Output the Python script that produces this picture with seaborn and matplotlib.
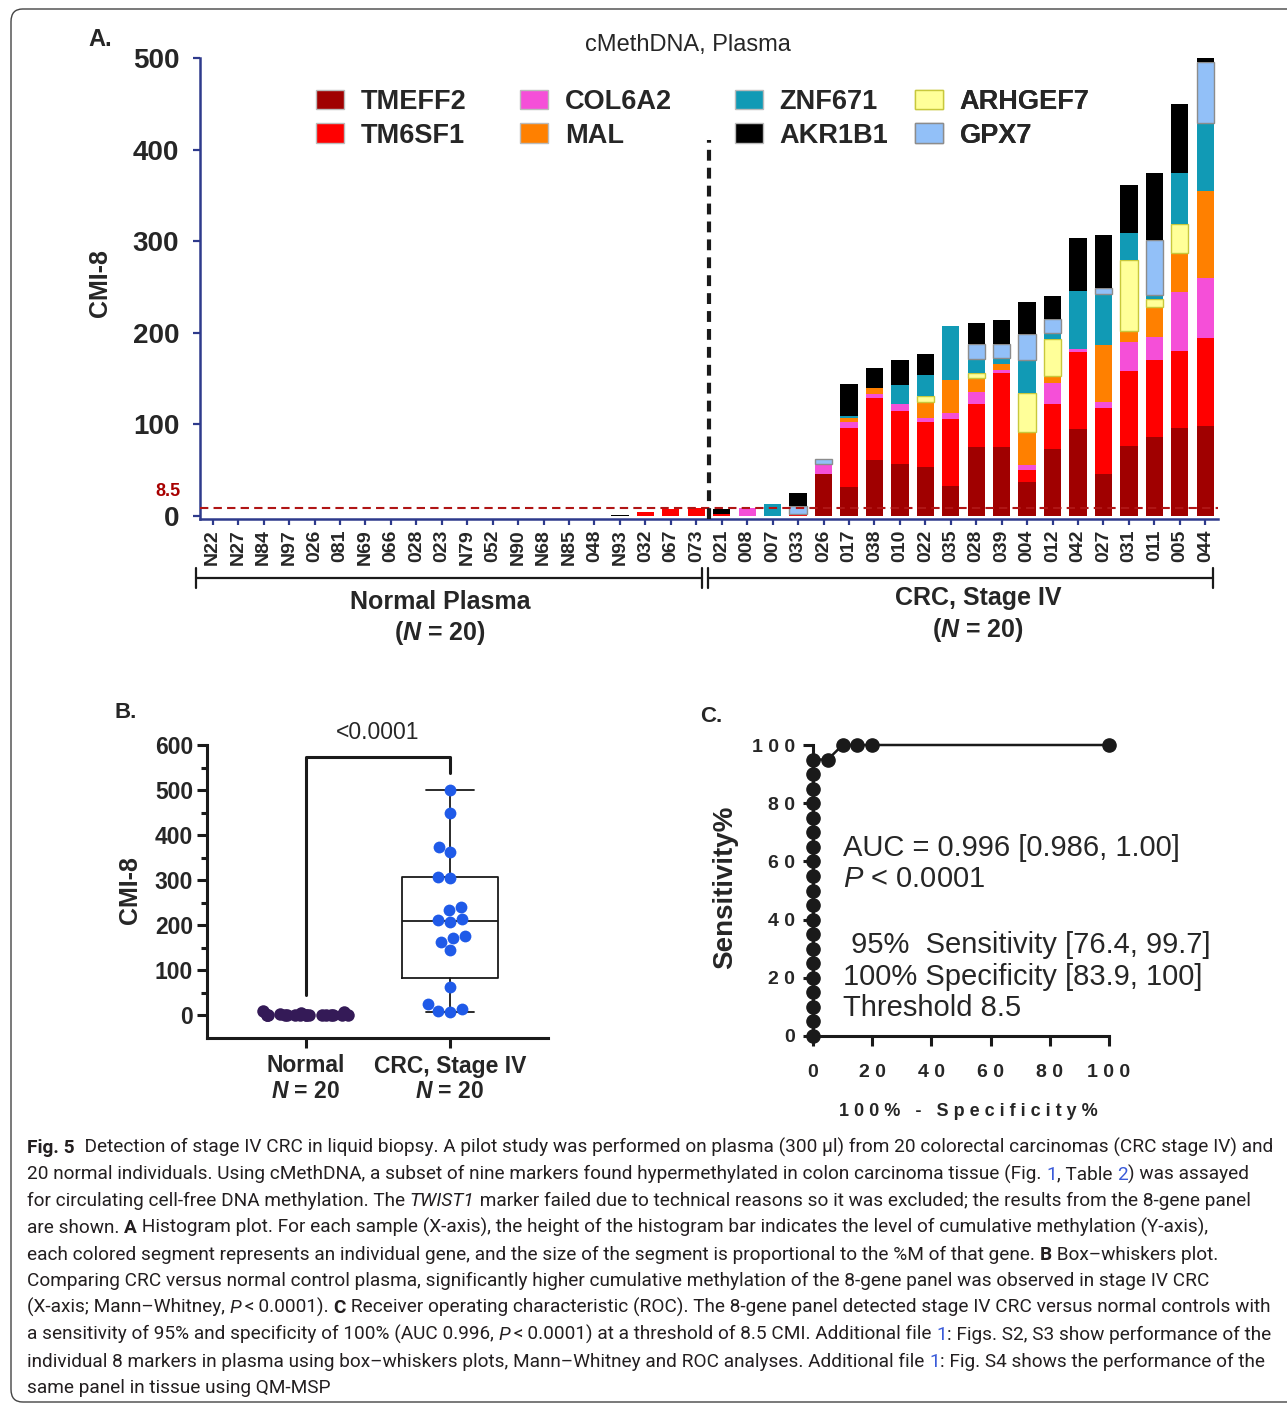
import numpy as np
import pandas as pd
import matplotlib
matplotlib.use("Agg")
import matplotlib.pyplot as plt
import seaborn as sns
from matplotlib.patches import Patch, FancyBboxPatch
from matplotlib import font_manager as fm

# ---------------- data ----------------
normal_ids = ["N22", "N27", "N84", "N97", "026", "081", "N69", "066", "028", "023",
              "N79", "052", "N90", "N68", "N85", "048", "N93", "032", "067", "073"]
crc_ids = ["021", "008", "007", "033", "026", "017", "038", "010", "022", "035",
           "028", "039", "004", "012", "042", "027", "031", "011", "005", "044"]
genes = ["TMEFF2", "TM6SF1", "COL6A2", "MAL", "ARHGEF7", "ZNF671", "GPX7", "AKR1B1"]

# values per sample: 20 normal plasma, then 20 CRC stage IV
TMEFF2 = [0, 0, 0, 0, 0, 0, 0, 0, 0, 0, 0, 0, 0, 0, 0, 0, 0, 0, 0, 0,
          0, 0, 0, 0, 45.5, 31.0, 61.0, 56.4, 52.8, 32.8, 74.6, 74.6, 36.8, 72.8, 94.6, 45.5, 76.4, 85.9, 95.7, 97.9]
TM6SF1 = [0, 0, 0, 0, 0, 0, 0, 0, 0, 0, 0, 0, 0, 0, 0, 0, 0, 4.4, 7.8, 8.2,
          2.5, 0, 0, 2.2, 0, 65.0, 68.0, 58.2, 49.9, 72.8, 48.0, 81.1, 13.1, 49.1, 84.4, 72.4, 81.5, 84.8, 84.1, 96.8]
COL6A2 = [0, 0, 0, 0, 0, 0, 0, 0, 0, 0, 0, 0, 0, 0, 0, 0, 0, 0, 0, 0,
          0, 9.0, 0, 0, 11.6, 6.5, 4.4, 7.3, 4.4, 6.2, 13.1, 4.0, 5.1, 22.9, 3.6, 6.9, 31.7, 24.7, 64.8, 64.8]
MAL = [0, 0, 0, 0, 0, 0, 0, 0, 0, 0, 0, 0, 0, 0, 0, 0, 0, 0, 0, 0,
       0, 0, 0, 0, 0, 4.4, 6.5, 0, 16.7, 36.8, 14.9, 5.8, 36.0, 8.0, 0, 61.9, 12.7, 32.4, 42.2, 95.0]
ARHGEF7 = [0, 0, 0, 0, 0, 0, 0, 0, 0, 0, 0, 0, 0, 0, 0, 0, 0, 0, 0, 0,
           0, 0, 0, 0, 0, 0, 0, 0, 6.5, 0, 5.1, 0, 42.6, 40.8, 0, 0, 76.8, 9.5, 31.7, 0]
ZNF671 = [0, 0, 0, 0, 0, 0, 0, 0, 0, 0, 0, 0, 0, 0, 0, 0, 0, 0, 0, 0,
          0, 0, 12.4, 0, 0, 1.8, 0, 20.7, 23.3, 59.0, 15.6, 7.3, 36.4, 6.2, 63.0, 55.0, 29.5, 3.6, 55.7, 74.2]
GPX7 = [0, 0, 0, 0, 0, 0, 0, 0, 0, 0, 0, 0, 0, 0, 0, 0, 0, 0, 0, 0,
        0, 0, 0, 8.4, 4.4, 0, 0, 0, 0, 0, 16.7, 15.3, 29.1, 14.6, 0, 6.6, 0, 60.0, 0, 67.0]
AKR1B1 = [0, 0, 0, 0, 0, 0, 0, 0, 0, 0, 0, 0, 0, 0, 0, 0, 1.4, 0, 0, 0,
          5.3, 0, 0, 14.2, 0, 35.0, 21.8, 28.0, 22.9, 0, 22.9, 25.5, 34.6, 26.2, 57.9, 58.2, 52.8, 73.1, 75.3, 4.7]
gene_values = {"TMEFF2": TMEFF2, "TM6SF1": TM6SF1, "COL6A2": COL6A2, "MAL": MAL,
               "ARHGEF7": ARHGEF7, "ZNF671": ZNF671, "GPX7": GPX7, "AKR1B1": AKR1B1}
threshold = 8.5
legend_columns = [["TMEFF2", "TM6SF1"], ["COL6A2", "MAL"], ["ZNF671", "AKR1B1"], ["ARHGEF7", "GPX7"]]
box_groups = ["Normal", "CRC"]
roc_ticklabels = ["0", "2 0", "4 0", "6 0", "8 0", "1 0 0"]

# ---------------- styles ----------------
gene_colors = {"TMEFF2": "#a00000", "TM6SF1": "#ff0000", "COL6A2": "#f54fd8", "MAL": "#ff8000",
               "ARHGEF7": "#ffff99", "ZNF671": "#119ab5", "GPX7": "#92c0f8", "AKR1B1": "#000000"}
gene_edges = {"ARHGEF7": "#c8c83c", "GPX7": "#8c8c8c"}
NAVY = "#2e3a8c"
legend_col_x = [316, 520, 735, 915]

W, H = 1287, 1404
sns.set_theme(style="ticks")
plt.rcParams["font.family"] = ["Liberation Sans", "DejaVu Sans"]
plt.rcParams["mathtext.fontset"] = "custom"
plt.rcParams["mathtext.rm"] = "Liberation Sans"
plt.rcParams["mathtext.it"] = "Liberation Sans:italic"
plt.rcParams["mathtext.bf"] = "Liberation Sans:bold"
plt.rcParams["mathtext.sf"] = "Liberation Sans:bold:italic"

fig = plt.figure(figsize=(W / 100, H / 100), dpi=100)
fig.patch.set_facecolor("white")


def fx(px):
    return px / W


def fy(py):
    return 1 - py / H


# border
border = FancyBboxPatch((fx(11), fy(1402)), fx(1320) - fx(11), fy(9) - fy(1402),
                        boxstyle="round,pad=0,rounding_size=0.009", transform=fig.transFigure,
                        fill=False, ec="#444444", lw=1.0)
fig.add_artist(border)

# ================= Panel A =================
axA = fig.add_axes([fx(200), fy(519), (1218 - 200) / W, (519 - 58) / H])
keys = [f"n{i}" for i in range(len(normal_ids))] + [f"c{i}" for i in range(len(crc_ids))]
tick_labels = normal_ids + crc_ids
bottom = np.zeros(len(keys))
for g in genes:
    vals = np.array(gene_values[g], dtype=float)
    ec = gene_edges.get(g, gene_colors[g])
    lw = 1.0 if g in gene_edges else 0.0
    sns.barplot(x=keys, y=vals, order=keys, color=gene_colors[g], saturation=1, width=0.68,
                errorbar=None, bottom=bottom.copy(), edgecolor=ec, linewidth=lw, ax=axA)
    cont = axA.containers[-1]
    for bar, v in zip(cont, vals):
        if v == 0:
            bar.set_visible(False)
    bottom += vals

axA.set_xlim(-0.5, len(keys) - 0.5)
axA.set_ylim(-3.5, 500)
axA.set_yticks([0, 100, 200, 300, 400, 500])
axA.set_yticklabels(["0", "100", "200", "300", "400", "500"], fontweight="bold", fontsize=20)
axA.set_xticks(range(len(keys)))
axA.set_xticklabels(tick_labels, rotation=90, fontweight="bold", fontsize=14)
axA.tick_params(axis="y", length=5, width=1.6, color=NAVY, pad=10)
axA.tick_params(axis="x", length=4.5, width=1.6, color=NAVY, pad=3)
for s in ["top", "right"]:
    axA.spines[s].set_visible(False)
for s in ["left", "bottom"]:
    axA.spines[s].set_color(NAVY)
    axA.spines[s].set_linewidth(1.8)
axA.set_xlabel("")
axA.set_ylabel("")

axA.axhline(threshold, color="#b01515", lw=1.5, ls=(0, (4, 2.5)), zorder=5)
axA.vlines(len(normal_ids) - 0.5, -3.5, 410, color="k", lw=3, linestyles=[(0, (2.6, 1.7))],
           zorder=5, clip_on=False)

fig.text(fx(88), fy(40), "A.", fontsize=17, fontweight="bold", ha="left", va="center")
fig.text(fx(688), fy(45), "cMethDNA, Plasma", fontsize=17, ha="center", va="center")
fig.text(fx(100), fy(283), "CMI-8", fontsize=18, fontweight="bold", rotation=90, ha="center", va="center")
fig.text(fx(180), fy(492), "8.5", fontsize=13, fontweight="bold", color="#a80000", ha="right", va="center")

# legend: one small legend per column, placed like the reference
for col, xpx in zip(legend_columns, legend_col_x):
    handles = [Patch(facecolor=gene_colors[g], edgecolor=gene_edges.get(g, "#bbbbbb"), linewidth=1.0)
               for g in col]
    leg = axA.legend(handles, col, ncol=1, loc="upper left", bbox_to_anchor=(fx(xpx), fy(89)),
                     bbox_transform=fig.transFigure, frameon=False, prop=dict(weight="bold", size=19.5),
                     handlelength=1.05, handleheight=0.75, handletextpad=0.6,
                     labelspacing=0.28, borderpad=0, borderaxespad=0)
    axA.add_artist(leg)

# group brackets under the x axis
tr = axA.get_xaxis_transform()
n_norm = len(normal_ids)
def yfrac(py):
    return (519 - py) / 461.0
for x0, x1 in [(-0.66, n_norm - 0.76), (n_norm - 0.52, len(keys) - 0.70)]:
    axA.plot([x0, x1], [yfrac(578), yfrac(578)], color="k", lw=1.6, transform=tr, clip_on=False)
    for xe in (x0, x1):
        axA.plot([xe, xe], [yfrac(568), yfrac(588)], color="k", lw=1.6, transform=tr, clip_on=False)
axA.text(8.93, yfrac(602), "Normal Plasma", transform=tr, ha="center", va="center",
         fontsize=18, fontweight="bold")
axA.text(8.93, yfrac(633), "($\\mathsf{N}$ = 20)", transform=tr, ha="center", va="center",
         fontsize=18, fontweight="bold")
axA.text(30.06, yfrac(598), "CRC, Stage IV", transform=tr, ha="center", va="center",
         fontsize=18, fontweight="bold")
axA.text(30.06, yfrac(630), "($\\mathsf{N}$ = 20)", transform=tr, ha="center", va="center",
         fontsize=18, fontweight="bold")

# ================= Panel B =================
totals = np.sum([np.array(gene_values[g], dtype=float) for g in genes], axis=0)
totals = np.round(totals, 6)
normal_tot = totals[:n_norm]
crc_tot = totals[n_norm:]
dfB = pd.DataFrame({"group": [box_groups[0]] * n_norm + [box_groups[1]] * len(crc_ids),
                    "cmi": totals})

axB = fig.add_axes([fx(207), fy(1038), (548 - 207) / W, (1038 - 745) / H])
q1, med, q3 = np.percentile(crc_tot, [25, 50, 75], method="weibull")
stats = [dict(med=med, q1=q1, q3=q3, whislo=crc_tot.min(), whishi=crc_tot.max(), fliers=[])]
lineprops = dict(color="k", linewidth=1.3)
axB.bxp(stats, positions=[1], widths=0.66, capwidths=0.33, showfliers=False, manage_ticks=False,
        boxprops=lineprops, whiskerprops=lineprops, capprops=lineprops,
        medianprops=lineprops, zorder=2)
np.random.seed(7)
sns.stripplot(data=dfB[dfB["group"] == box_groups[0]], x="group", y="cmi", order=box_groups,
              color="#341a57", size=9, jitter=0.31, ax=axB, zorder=3)
sns.swarmplot(data=dfB[dfB["group"] == box_groups[1]], x="group", y="cmi", order=box_groups,
              color="#1f5ae8", size=8.5, ax=axB, zorder=3)
axB.set_xlim(-0.684, 1.679)
axB.set_ylim(-51, 600)
axB.set_yticks([0, 100, 200, 300, 400, 500, 600])
axB.set_yticklabels(["0", "100", "200", "300", "400", "500", "600"], fontweight="bold", fontsize=16.5)
axB.set_yticks(np.arange(50, 600, 100), minor=True)
axB.set_xticks([0, 1])
axB.set_xticklabels(["", ""])
axB.tick_params(axis="both", which="major", length=7, width=2.2, color="k", pad=3)
axB.tick_params(axis="y", which="minor", length=4.5, width=2.2, color="k")
for s in ["top", "right"]:
    axB.spines[s].set_visible(False)
for s in ["left", "bottom"]:
    axB.spines[s].set_color("k")
    axB.spines[s].set_linewidth(2.2)
axB.set_xlabel("")
axB.set_ylabel("")
axB.plot([0, 0, 1, 1], [44, 573, 573, 538], color="k", lw=2.2, clip_on=False)
axB.text(0.5, 627, "<0.0001", ha="center", va="center", fontsize=16.5)
trB = axB.get_xaxis_transform()
def yfracB(py):
    return (1038 - py) / 293.0
axB.text(0, yfracB(1066), "Normal", transform=trB, ha="center", va="center", fontsize=16.5, fontweight="bold")
axB.text(0, yfracB(1091), "$\\mathsf{N}$ = 20", transform=trB, ha="center", va="center", fontsize=16.5, fontweight="bold")
axB.text(1, yfracB(1066), "CRC, Stage IV", transform=trB, ha="center", va="center", fontsize=16.5, fontweight="bold")
axB.text(1, yfracB(1091), "$\\mathsf{N}$ = 20", transform=trB, ha="center", va="center", fontsize=16.5, fontweight="bold")
fig.text(fx(115), fy(713), "B.", fontsize=16, fontweight="bold", ha="left", va="center")
fig.text(fx(130), fy(890), "CMI-8", fontsize=18, fontweight="bold", rotation=90, ha="center", va="center")

# ================= Panel C (ROC computed from the totals) =================
cut_values = np.unique(totals)[::-1]
fpr = [0.0]
tpr = [0.0]
for v in cut_values:
    tpr.append(100 * np.mean(crc_tot >= v))
    fpr.append(100 * np.mean(normal_tot >= v))

axC = fig.add_axes([fx(813), fy(1036), (1109 - 813) / W, (1036 - 745) / H])
sns.lineplot(x=fpr, y=tpr, sort=False, estimator=None, color="k", linewidth=1.8, marker="o",
             markersize=9.5, markeredgecolor="k", markeredgewidth=1, clip_on=False, zorder=5, ax=axC)
axC.set_xlim(0, 100)
axC.set_ylim(0, 100)
axC.set_xticks([0, 20, 40, 60, 80, 100])
axC.set_xticklabels(roc_ticklabels, fontweight="bold", fontsize=14)
axC.set_yticks([0, 20, 40, 60, 80, 100])
axC.set_yticklabels(roc_ticklabels, fontweight="bold", fontsize=14)
axC.tick_params(axis="x", length=7, width=2.2, color="k", pad=13)
axC.tick_params(axis="y", length=7, width=2.2, color="k", pad=6)
for s in ["top", "right"]:
    axC.spines[s].set_visible(False)
for s in ["left", "bottom"]:
    axC.spines[s].set_color("k")
    axC.spines[s].set_linewidth(2.2)
axC.set_xlabel("")
axC.set_ylabel("")
fig.text(fx(968), fy(1111), " ".join("100% - Specificity%"), fontsize=13, fontweight="bold",
         ha="center", va="center")
fig.text(fx(725), fy(887), "Sensitivity%", fontsize=20, fontweight="bold", rotation=90,
         ha="center", va="center")
fig.text(fx(700), fy(716), "C.", fontsize=16, fontweight="bold", ha="left", va="center")
roc_text = [("AUC = 0.996 [0.986, 1.00]", 856), ("$P$ < 0.0001", 887),
            (" 95%  Sensitivity [76.4, 99.7]", 953), ("100% Specificity [83.9, 100]", 985),
            ("Threshold 8.5", 1016)]
for s, yb in roc_text:
    fig.text(fx(843), fy(yb), s, fontsize=21, ha="left", va="baseline")

# ================= Caption =================
def has_font(name):
    try:
        fm.findfont(fm.FontProperties(family=name), fallback_to_default=False)
        return True
    except Exception:
        return False

cap_family = "Liberation Sans Narrow" if has_font("Liberation Sans Narrow") else "Roboto"
fams = [cap_family, "DejaVu Sans"]
K = "#231f20"
BL = "#3a5bd9"
caption_lines = [
    [("Fig. 5", "b", K), ("  Detection of stage IV CRC in liquid biopsy. A pilot study was performed on plasma (300 µl) from 20 colorectal carcinomas (CRC stage IV) and", "", K)],
    [("20 normal individuals. Using cMethDNA, a subset of nine markers found hypermethylated in colon carcinoma tissue (Fig. ", "", K), ("1", "", BL), (", Table ", "", K), ("2", "", BL), (") was assayed", "", K)],
    [("for circulating cell-free DNA methylation. The ", "", K), ("TWIST1", "i", K), (" marker failed due to technical reasons so it was excluded; the results from the 8-gene panel", "", K)],
    [("are shown. ", "", K), ("A", "b", K), (" Histogram plot. For each sample (X-axis), the height of the histogram bar indicates the level of cumulative methylation (Y-axis),", "", K)],
    [("each colored segment represents an individual gene, and the size of the segment is proportional to the %M of that gene. ", "", K), ("B", "b", K), (" Box–whiskers plot.", "", K)],
    [("Comparing CRC versus normal control plasma, significantly higher cumulative methylation of the 8-gene panel was observed in stage IV CRC", "", K)],
    [("(X-axis; Mann–Whitney, ", "", K), ("P", "i", K), ("\u2009<\u20090.0001). ", "", K), ("C", "b", K), (" Receiver operating characteristic (ROC). The 8-gene panel detected stage IV CRC versus normal controls with", "", K)],
    [("a sensitivity of 95% and specificity of 100% (AUC 0.996, ", "", K), ("P", "i", K), ("\u2009<\u20090.0001) at a threshold of 8.5 CMI. Additional file ", "", K), ("1", "", BL), (": Figs. S2, S3 show performance of the", "", K)],
    [("individual 8 markers in plasma using box–whiskers plots, Mann–Whitney and ROC analyses. Additional file ", "", K), ("1", "", BL), (": Fig. S4 shows the performance of the", "", K)],
    [("same panel in tissue using QM-MSP", "", K)],
]

renderer = fig.canvas.get_renderer()


def props(style, size):
    return dict(fontsize=size, family=fams, fontweight="bold" if "b" in style else "normal",
                fontstyle="italic" if "i" in style else "normal")


def seg_width(txt, style, size):
    t1 = fig.text(0, 0, "|" + txt + "|", **props(style, size))
    t2 = fig.text(0, 0, "||", **props(style, size))
    w = t1.get_window_extent(renderer).width - t2.get_window_extent(renderer).width
    t1.remove()
    t2.remove()
    return w


base = 10.0
w1 = sum(seg_width(t, st, base) for t, st, c in caption_lines[0])
cap_size = base * (1272 - 27) / w1
for i, line in enumerate(caption_lines):
    x = 27.0
    yb = 1153 + 26.7 * i
    for t, st, c in line:
        fig.text(fx(x), fy(yb), t, color=c, ha="left", va="baseline", **props(st, cap_size))
        x += seg_width(t, st, cap_size)

fig.savefig("out.png", dpi=100, facecolor="white")
